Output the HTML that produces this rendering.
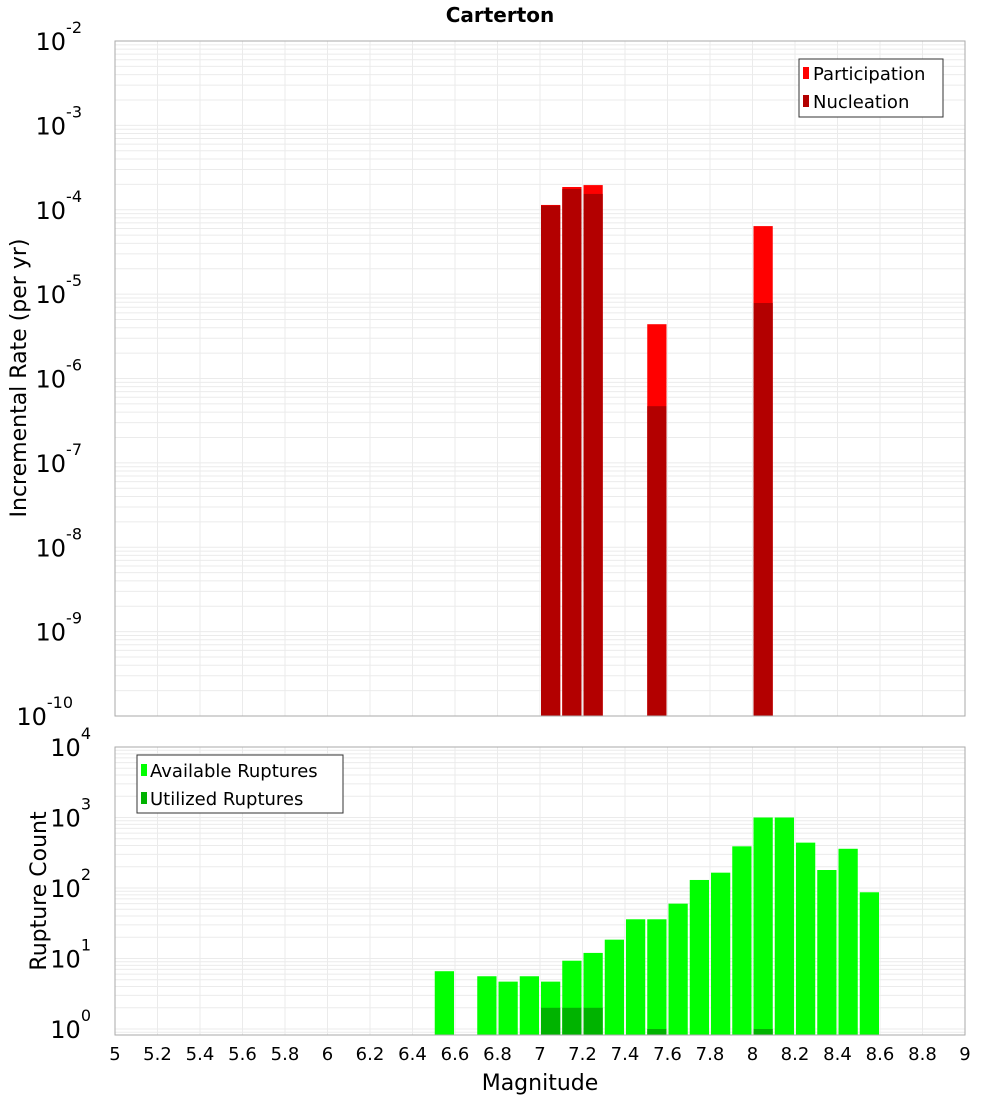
<!DOCTYPE html>
<html><head><meta charset="utf-8"><style>
body{margin:0;background:#fff;}
svg{display:block;font-family:"DejaVu Sans","Liberation Sans",sans-serif;}
</style></head><body>
<svg id="chart" width="1000" height="1100" viewBox="0 0 1000 1100" xmlns="http://www.w3.org/2000/svg">
<text x="500" y="22" text-anchor="middle" font-size="20" font-weight="bold">Carterton</text>
<g id="top"></g>
<g id="bot"></g>
</svg>
<script>
// data
const topMags = [7.05, 7.15, 7.25, 7.55, 8.05];
const participation = [1.14e-4, 1.86e-4, 1.96e-4, 4.4e-6, 6.4e-5];
const nucleation = [1.12e-4, 1.76e-4, 1.54e-4, 4.7e-7, 7.85e-6];
const botMags = [6.55, 6.75, 6.85, 6.95, 7.05, 7.15, 7.25, 7.35, 7.45, 7.55, 7.65, 7.75, 7.85, 7.95, 8.05, 8.15, 8.25, 8.35, 8.45, 8.55];
const available = [6.6, 5.6, 4.7, 5.6, 4.7, 9.3, 12, 18.5, 36, 36, 60, 130, 165, 390, 1000, 1000, 440, 180, 360, 87];
const utilMags = [7.05, 7.15, 7.25, 7.55, 8.05];
const utilized = [2, 2, 2, 1, 1];
const xTicks = [5,5.2,5.4,5.6,5.8,6,6.2,6.4,6.6,6.8,7,7.2,7.4,7.6,7.8,8,8.2,8.4,8.6,8.8,9];
const topExps = [-2,-3,-4,-5,-6,-7,-8,-9,-10];
const botExps = [4,3,2,1,0];

const NS = "http://www.w3.org/2000/svg";
function mk(parent, tag, attrs){const e=document.createElementNS(NS,tag);for(const k in attrs)e.setAttribute(k,attrs[k]);parent.appendChild(e);return e;}
const X0=115, X1=965;
const xs = m => X0 + (m-5)/4*(X1-X0);
const TT=41, TB=716;
const yTop = v => TT + (-2 - Math.log10(v))*(TB-TT)/8;
const BT=747, BB=1035, DEC=70.5;
const yBot = v => BT + (4 - Math.log10(v))*DEC;
const barW = (X1-X0)/40;

function grid(g, top, bottom, yf, expHi, expLo){
  for(let e=expLo; e<expHi; e++){
    for(let k=1;k<10;k++){
      const y=yf(k*Math.pow(10,e));
      if(y<top-0.5||y>bottom+0.5) continue;
      const l=mk(g,'line',{x1:X0,x2:X1,y1:y,y2:y,stroke:'#ebebeb','stroke-width':1});
      
      
    }
  }
  xTicks.forEach(t=>{
    const l=mk(g,'line',{x1:xs(t),x2:xs(t),y1:top,y2:bottom,stroke:'#ebebeb','stroke-width':1});
    
    
  });
}
function ylabel(g, y, e){
  const t=mk(g,'text',{x:100,y:y+9,'text-anchor':'end','font-size':24});
  
  
  t.textContent='10';
  const s=mk(t,'tspan',{dy:-17,'font-size':16});
  s.textContent=String(e);
  t.setAttribute('x',100-String(e).length*9);
  t.setAttribute('text-anchor','end');
  const s2=t.lastChild; s2.setAttribute('dx','0');
}

// top plot
const gt=document.getElementById('top');


mk(gt,'rect',{x:X0,y:TT,width:X1-X0,height:TB-TT,fill:'#fff'});
grid(gt,TT,TB,yTop,-2,-10);
topMags.forEach((m,i)=>{
  const r=mk(gt,'rect',{x:xs(m)-barW/2+1,y:yTop(participation[i]),width:barW-2,height:TB-yTop(participation[i]),fill:'#ff0000'});
  
  
  const n=mk(gt,'rect',{x:xs(m)-barW/2+1,y:yTop(nucleation[i]),width:barW-2,height:TB-yTop(nucleation[i]),fill:'#b30000'});
  
  
});
mk(gt,'rect',{x:X0,y:TT,width:X1-X0,height:TB-TT,fill:'none',stroke:'#aaa','stroke-width':1});
topExps.forEach(e=>ylabel(gt,yTop(Math.pow(10,e)),e));
const yt=mk(gt,'text',{x:26,y:378,'text-anchor':'middle','font-size':22,transform:'rotate(-90 26 378)'});


yt.textContent='Incremental Rate (per yr)';
// legend top
const lg=mk(gt,'g',{});


mk(lg,'rect',{x:799,y:59,width:144,height:58,fill:'#fff',stroke:'#333','stroke-width':1});
mk(lg,'rect',{x:803,y:67,width:6,height:12,fill:'#ff0000'});
mk(lg,'rect',{x:803,y:95,width:6,height:12,fill:'#b30000'});
let t1=mk(lg,'text',{x:813,y:80,'font-size':18});t1.textContent='Participation';
let t2=mk(lg,'text',{x:813,y:108,'font-size':18});t2.textContent='Nucleation';

// bottom plot
const gb=document.getElementById('bot');


mk(gb,'rect',{x:X0,y:BT,width:X1-X0,height:BB-BT,fill:'#fff'});
grid(gb,BT,BB,yBot,4,-1);
botMags.forEach((m,i)=>{
  const r=mk(gb,'rect',{x:xs(m)-barW/2+1,y:yBot(available[i]),width:barW-2,height:BB-yBot(available[i]),fill:'#00ff00'});
  
  
});
utilMags.forEach((m,i)=>{
  const r=mk(gb,'rect',{x:xs(m)-barW/2+1,y:yBot(utilized[i]),width:barW-2,height:BB-yBot(utilized[i]),fill:'#00b300'});
  
  
});
mk(gb,'rect',{x:X0,y:BT,width:X1-X0,height:BB-BT,fill:'none',stroke:'#aaa','stroke-width':1});
botExps.forEach(e=>ylabel(gb,yBot(Math.pow(10,e)),e));
const yb=mk(gb,'text',{x:46,y:891,'text-anchor':'middle','font-size':22,transform:'rotate(-90 46 891)'});


yb.textContent='Rupture Count';
const lb=mk(gb,'g',{});


mk(lb,'rect',{x:137,y:755,width:206,height:58,fill:'#fff',stroke:'#333','stroke-width':1});
mk(lb,'rect',{x:141,y:764,width:6,height:12,fill:'#00ff00'});
mk(lb,'rect',{x:141,y:792,width:6,height:12,fill:'#00b300'});
let t3=mk(lb,'text',{x:150,y:777,'font-size':18});t3.textContent='Available Ruptures';
let t4=mk(lb,'text',{x:150,y:805,'font-size':18});t4.textContent='Utilized Ruptures';
// x ticks
xTicks.forEach(t=>{
  const l=mk(gb,'text',{x:xs(t),y:1060,'text-anchor':'middle','font-size':18});
  
  
  l.textContent=String(t);
});
const xt=mk(gb,'text',{x:540,y:1090,'text-anchor':'middle','font-size':22});


xt.textContent='Magnitude';
</script>
</body></html>
